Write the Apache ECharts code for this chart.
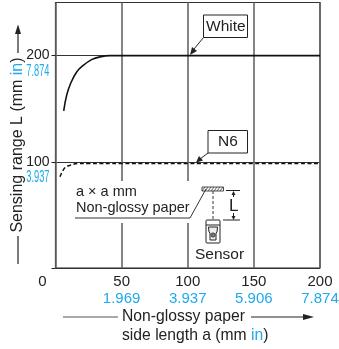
<!DOCTYPE html>
<html><head><meta charset="utf-8">
<style>html,body{margin:0;padding:0;background:#fff}#c{width:339px;height:349px}</style>
<script src="https://cdn.jsdelivr.net/npm/echarts@6/dist/echarts.min.js"></script></head>
<body><div id="c"></div>
<script>
var whiteCurve=[[6.2,148],[8.5,163],[11.5,174],[16,184.6],[21,190.8],[27.3,196.2],[33.6,198.8],[41.2,200],[50,200],[100,200],[150,200],[200,200]];
var n6Curve=[[3.4,86],[7.2,94.6],[11,96.7],[17,98.4],[25,98.5],[50,98.5],[100,98.5],[150,98.5],[200,98.5]];
var xTicksMm=['0','50','100','150','200'];
var xTicksIn=['','1.969','3.937','5.906','7.874'];
var yTicksMm={0:'',100:'100',200:'200'};
var yTicksInValues=[100,200];
var yTicksIn=['3.937','7.874'];
var BLUE='#1fa9ee',INK='#222',F='"Liberation Sans",Arial,sans-serif';
function T(x,y,text,o){return {type:'text',x:x,y:y,z:50,style:Object.assign({text:text,font:'15px '+F,fill:INK},o||{})};}
function L(a,b,c,d,w,col,dash){return {type:'line',z:50,shape:{x1:a,y1:b,x2:c,y2:d},style:{stroke:col||INK,lineWidth:w||1,lineDash:dash||null}};}
function P(pts,col){return {type:'polygon',z:51,shape:{points:pts},style:{fill:col||INK}};}
function R(x,y,w,h,fill,stroke,lw){return {type:'rect',z:49,shape:{x:x,y:y,width:w,height:h},style:{fill:fill||'#fff',stroke:stroke||null,lineWidth:lw||1}};}
var hatch=[];[204,207,210,213,216,219,222].forEach(function(x){hatch.push(L(x-2,191,x+1,187,0.8,'#333'));});
var g=[
 R(62,181,135,42,'#fff'),
 T(76,184.5,'a × a mm',{font:'14.5px '+F}),
 T(76,200.5,'Non-glossy paper',{font:'14.5px '+F}),
 L(75,218,190,218,1,'#333'),L(190,218,206,189,1,'#333'),
 R(202,187,21.5,4,'#fff','#222',0.8)
].concat(hatch).concat([
 L(213,191,213,220,1,'#333',[3,2]),
 L(226,190.5,240,190.5,1),L(223,220,240,220,1),
 L(233.5,194,233.5,197,1),L(233.5,213,233.5,217,1),
 P([[233.5,191],[231.5,195],[235.5,195]]),P([[233.5,220],[231.5,216],[235.5,216]]),
 T(229,197.5,'L',{font:'17px '+F}),
 {type:'rect',z:50,shape:{x:206,y:220,width:14,height:23,r:1},style:{fill:'#fff',stroke:INK,lineWidth:1}},
 L(206,225,220,225,1),
 {type:'polygon',z:52,shape:{points:[[208.5,227],[217.5,227],[217,232],[216,233],[216,240],[210,240],[210,233],[209,232]]},style:{fill:'#eee',stroke:INK,lineWidth:1}},
 {type:'circle',z:53,shape:{cx:213,cy:235,r:2.2},style:{fill:'#777',stroke:INK,lineWidth:0.6}},
 T(195,247,'Sensor',{font:'15.5px '+F}),
 R(203.5,15,44,22.5,'#fff','#222',1),T(206,18.5,'White',{font:'15.5px '+F}),
 L(203.5,37.5,194,49,1),P([[190,55],[192,47],[197,51]]),
 R(208,130.5,39.5,22.5,'#fff','#222',1),T(218,134,'N6',{font:'15.5px '+F}),
 L(208,153,200,159,1),P([[196,162.5],[199,156],[203,160.5]]),
 {type:'text',z:50,x:18,y:145,rotation:Math.PI/2,style:{text:'{k|Sensing range L (mm }{b|in}{k|)}',align:'center',verticalAlign:'middle',rich:{k:{fontSize:16,fontFamily:F,fill:INK},b:{fontSize:16,fontFamily:F,fill:BLUE}}}},
 L(18,53,18,30,1.2),P([[18,24.5],[15,34],[21,34]]),
 L(18,264,18,236,1.2),
 L(63,317,118,317,1.2,'#555'),
 L(251,317,307,317,1.2),P([[314,317],[303,314],[303,320]]),
 T(122,308.5,'Non-glossy paper',{font:'15.7px '+F}),
 {type:'text',z:50,x:122,y:327.5,style:{text:'{k|side length a (mm }{b|in}{k|)}',rich:{k:{fontSize:15.7,fontFamily:F,fill:INK},b:{fontSize:15.7,fontFamily:F,fill:BLUE}}}}
]);
var chart=echarts.init(document.getElementById('c'),null,{renderer:'canvas'});
chart.setOption({
 animation:false,backgroundColor:'#fff',
 grid:{left:55.5,right:19,top:2.5,bottom:81,outerBoundsMode:'none',containLabel:false,show:true,borderColor:INK,borderWidth:1.2,backgroundColor:'transparent'},
 xAxis:{type:'value',min:0,max:200,interval:50,
  axisLine:{show:false},axisTick:{show:false},
  splitLine:{show:true,lineStyle:{color:'#666',width:1.6}},
  axisLabel:{margin:6,showMinLabel:true,showMaxLabel:true,hideOverlap:false,
   formatter:function(v){var i=xTicksMm.indexOf(String(v));
    return i===0?'{z|0}\n{b| }':'{k|'+xTicksMm[i]+'}\n{b|'+xTicksIn[i]+'}';},
   rich:{k:{fontSize:15,fontFamily:F,color:INK,lineHeight:16.5},z:{fontSize:15,fontFamily:F,color:INK,lineHeight:16.5,padding:[0,26,0,0]},b:{fontSize:15,fontFamily:F,color:BLUE,lineHeight:16.5}}}},
 yAxis:{type:'value',min:0,max:250,interval:100,
  axisLine:{show:false},axisTick:{show:true,length:4,lineStyle:{color:INK}},
  splitLine:{show:true,lineStyle:{color:'#333',width:1.2}},
  axisLabel:{margin:6,showMaxLabel:false,color:INK,fontFamily:F,fontSize:14,formatter:function(v){return yTicksMm[v]||'';}}},
 series:[
  {type:'line',name:'White',data:whiteCurve,smooth:0.4,showSymbol:false,lineStyle:{color:'#111',width:1.6},z:5},
  {type:'line',name:'N6',data:n6Curve,smooth:0.4,showSymbol:false,lineStyle:{color:'#111',width:1.5,type:[4,2.5]},z:5}
 ]
});
yTicksInValues.forEach(function(v,i){
 var py=chart.convertToPixel({yAxisIndex:0},v);
 g.push({type:'text',z:50,x:49.5,y:py+16,scaleX:0.58,style:{text:yTicksIn[i],font:'16px '+F,fill:BLUE,align:'right',verticalAlign:'middle'}});
});
chart.setOption({graphic:g});
</script></body></html>
